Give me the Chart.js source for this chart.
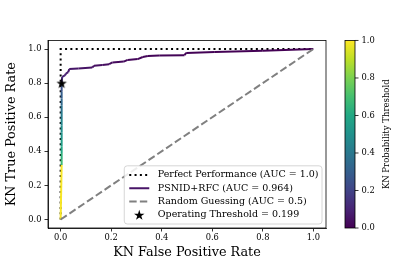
<!DOCTYPE html>
<html>
<head>
<meta charset="utf-8">
<script src="https://cdn.jsdelivr.net/npm/chart.js@4/dist/chart.umd.min.js"></script>
<style>
  html, body { margin: 0; padding: 0; background: #fff; }
  #wrap { width: 407px; height: 271px; }
</style>
</head>
<body>
<div id="wrap"><canvas id="c" width="407" height="271"></canvas></div>
<script>
// ---- data ----
const fpr = [0, 0.004, 0.004, 0.004, 0.004, 0.004, 0.004, 0.004, 0.004, 0.004, 0.004, 0.004, 0.004, 0.004,
             0.006, 0.017, 0.021, 0.030, 0.034, 0.070, 0.125, 0.132, 0.165, 0.192, 0.205, 0.250, 0.265,
             0.305, 0.325, 0.345, 0.390, 0.490, 0.497, 0.610, 0.800, 1.000];
const tpr = [0, 0.32, 0.35, 0.39, 0.43, 0.47, 0.51, 0.55, 0.59, 0.63, 0.67, 0.71, 0.75, 0.80,
             0.836, 0.845, 0.856, 0.864, 0.882, 0.886, 0.891, 0.902, 0.906, 0.911, 0.921, 0.926, 0.936,
             0.941, 0.953, 0.959, 0.962, 0.964, 0.977, 0.983, 0.990, 1.000];
const thresholds = [1.0, 0.99, 0.68, 0.64, 0.60, 0.56, 0.52, 0.49, 0.46, 0.42, 0.38, 0.34, 0.30, 0.25,
             0.12, 0.10, 0.09, 0.08, 0.07, 0.06, 0.05, 0.045, 0.04, 0.035, 0.03, 0.027, 0.024,
             0.02, 0.017, 0.014, 0.012, 0.01, 0.008, 0.006, 0.004, 0.0];
const perfectX = [0, 0, 1];
const perfectY = [0, 1, 1];
const randomX = [0, 1];
const randomY = [0, 1];
const opX = [0.004];
const opY = [0.80];
const opThreshold = 0.199;
const aucModel = 0.964;
const xTicks = [0, 0.2, 0.4, 0.6, 0.8, 1.0];
const yTicks = [0, 0.2, 0.4, 0.6, 0.8, 1.0];
const cbTicks = [0, 0.2, 0.4, 0.6, 0.8, 1.0];
const legendLabels = [
  'Perfect Performance (AUC = 1.0)',
  'PSNID+RFC (AUC = ' + aucModel + ')',
  'Random Guessing (AUC = 0.5)',
  'Operating Threshold = ' + opThreshold
];
const xTitle = 'KN False Positive Rate';
const yTitle = 'KN True Positive Rate';
const cbTitle = 'KN Probability Threshold';

// ---- colormap ----
const VIRIDIS = ['#440154','#482475','#414487','#355f8d','#2a788e','#21918c','#22a884','#44bf70','#7ad151','#bddf26','#fde725'];
const VRGB = VIRIDIS.map(h => [parseInt(h.slice(1,3),16), parseInt(h.slice(3,5),16), parseInt(h.slice(5,7),16)]);
function viridis(t) {
  t = Math.max(0, Math.min(1, t));
  const p = t * (VRGB.length - 1);
  const i = Math.min(Math.floor(p), VRGB.length - 2);
  const f = p - i;
  const a = VRGB[i], b = VRGB[i + 1];
  return 'rgb(' + [0,1,2].map(k => Math.round(a[k] + (b[k] - a[k]) * f)).join(',') + ')';
}

// ---- star marker ----
function makeStar(R) {
  const s = Math.ceil(R * 2 + 2);
  const cv = document.createElement('canvas');
  cv.width = s; cv.height = s;
  const g = cv.getContext('2d');
  drawStar(g, s / 2, s / 2 + R * 0.1, R);
  return cv;
}
function drawStar(g, cx, cy, R) {
  const r = R * 0.382;
  g.beginPath();
  for (let i = 0; i < 10; i++) {
    const rad = i % 2 === 0 ? R : r;
    const ang = -Math.PI / 2 + i * Math.PI / 5;
    const x = cx + rad * Math.cos(ang), y = cy + rad * Math.sin(ang);
    if (i === 0) g.moveTo(x, y); else g.lineTo(x, y);
  }
  g.closePath();
  g.fillStyle = '#000';
  g.fill();
}
const starImg = makeStar(5.5);

const FONT = "'DejaVu Serif', 'Liberation Serif', serif";
Chart.defaults.font.family = FONT;
Chart.defaults.color = '#000';

const toPts = (xs, ys) => xs.map((x, i) => ({x: x, y: ys[i]}));
const setTicks = arr => s => { s.ticks = arr.map(v => ({value: v})); };

// ---- plugin: frame, colorbar, legend ----
const extras = {
  id: 'extras',
  afterDatasetsDraw(chart) {
    const {ctx, chartArea: a} = chart;
    ctx.save();
    // legend
    ctx.font = '9.5px ' + FONT;
    const rowH = 13.3, pad = 5, handle = 20, gap = 8.5;
    const tw = Math.max(...legendLabels.map(t => ctx.measureText(t).width));
    const w = pad + handle + gap + tw + 3.5;
    const h = rowH * legendLabels.length + 5;
    const bx = a.right - 4 - w, by = a.bottom - 4 - h;
    ctx.beginPath();
    ctx.roundRect(bx, by, w, h, 3);
    ctx.fillStyle = 'rgba(255,255,255,0.85)';
    ctx.fill();
    ctx.strokeStyle = '#cccccc';
    ctx.lineWidth = 0.8;
    ctx.stroke();
    legendLabels.forEach((t, i) => {
      const cy = by + 2.5 + rowH * (i + 0.5);
      const hx = bx + pad;
      ctx.save();
      ctx.beginPath();
      if (i === 0) { ctx.setLineDash([2, 3.3]); ctx.strokeStyle = '#000'; ctx.lineWidth = 2; }
      else if (i === 1) { ctx.strokeStyle = '#481467'; ctx.lineWidth = 2; }
      else if (i === 2) { ctx.setLineDash([7.4, 3.2]); ctx.strokeStyle = '#808080'; ctx.lineWidth = 2; }
      if (i < 3) { ctx.moveTo(hx, cy); ctx.lineTo(hx + handle, cy); ctx.stroke(); }
      else { drawStar(ctx, hx + handle / 2, cy + 0.5, 5.5); }
      ctx.restore();
      ctx.fillStyle = '#000';
      ctx.textBaseline = 'middle';
      ctx.textAlign = 'left';
      ctx.fillText(t, hx + handle + gap, cy);
    });
    ctx.restore();
  },
  afterDraw(chart) {
    const {ctx, chartArea: a} = chart;
    ctx.save();
    ctx.strokeStyle = '#000';
    ctx.lineWidth = 0.8;
    ctx.strokeRect(a.left, a.top, a.right - a.left, a.bottom - a.top);
    // colorbar
    const cb = chart.scales.cb;
    const x0 = a.right + 19, w = 10;
    const yT = cb.getPixelForValue(1), yB = cb.getPixelForValue(0);
    const g = ctx.createLinearGradient(0, yB, 0, yT);
    VIRIDIS.forEach((c, i) => g.addColorStop(i / (VIRIDIS.length - 1), c));
    ctx.fillStyle = g;
    ctx.fillRect(x0, yT, w, yB - yT);
    ctx.strokeRect(x0, yT, w, yB - yT);
    cb.ticks.forEach(t => {
      const y = cb.getPixelForValue(t.value);
      ctx.beginPath();
      ctx.moveTo(x0 + w, y);
      ctx.lineTo(x0 + w + 3.5, y);
      ctx.stroke();
    });
    ctx.translate(386.5, (yT + yB) / 2);
    ctx.rotate(-Math.PI / 2);
    ctx.font = '8.5px ' + FONT;
    ctx.fillStyle = '#000';
    ctx.textAlign = 'center';
    ctx.textBaseline = 'middle';
    ctx.fillText(cbTitle, 0, 0);
    ctx.restore();
  }
};

const tickFont = {size: 8.3};
const gridOpts = {display: true, drawOnChartArea: false, drawTicks: true, tickLength: 3.5, color: '#000', lineWidth: 0.8};
const borderOpts = {display: true, color: '#000', width: 0.8};

new Chart(document.getElementById('c'), {
  type: 'scatter',
  data: {
    datasets: [
      {
        label: legendLabels[3], data: toPts(opX, opY), showLine: false,
        pointStyle: starImg, pointRadius: 5, order: 0
      },
      {
        label: legendLabels[2], data: toPts(randomX, randomY), showLine: true,
        borderColor: '#808080', borderWidth: 2, borderDash: [7.4, 3.2], pointRadius: 0, order: 1
      },
      {
        label: legendLabels[1], data: toPts(fpr, tpr), showLine: true,
        borderColor: '#481467', borderWidth: 2, pointRadius: 0, order: 2,
        segment: { borderColor: c => viridis(thresholds[c.p1DataIndex]) }
      },
      {
        label: legendLabels[0], data: toPts(perfectX, perfectY), showLine: true,
        borderColor: '#000', borderWidth: 2, borderDash: [2, 3.3], pointRadius: 0, order: 3
      }
    ]
  },
  options: {
    responsive: false,
    animation: false,
    events: [],
    layout: {padding: {top: 13, left: 0, right: 0, bottom: 0}},
    plugins: {legend: {display: false}, tooltip: {enabled: false}},
    scales: {
      x: {
        type: 'linear', position: 'bottom', min: -0.05, max: 1.05,
        afterBuildTicks: setTicks(xTicks),
        afterFit: s => { s.height = 43; },
        grid: gridOpts, border: borderOpts,
        ticks: {font: tickFont, padding: 1.5, maxRotation: 0, autoSkip: false, callback: v => v.toFixed(1)},
        title: {display: true, text: xTitle, font: {size: 12.8}, padding: {top: 0, bottom: 10.5}}
      },
      y: {
        type: 'linear', position: 'left', min: -0.05, max: 1.05,
        afterBuildTicks: setTicks(yTicks),
        afterFit: s => { s.width = 48; },
        grid: gridOpts, border: borderOpts,
        ticks: {font: tickFont, padding: 3, autoSkip: false, callback: v => v.toFixed(1)},
        title: {display: true, text: yTitle, font: {size: 12.8}, padding: {top: 4.3, bottom: 0}}
      },
      cb: {
        type: 'linear', position: 'right', min: 0, max: 1,
        afterBuildTicks: setTicks(cbTicks),
        afterFit: s => { s.width = 81; },
        grid: {display: false, drawTicks: false}, border: {display: false},
        ticks: {font: tickFont, padding: 35.5, autoSkip: false, callback: v => v.toFixed(1)}
      }
    }
  },
  plugins: [extras]
});
</script>
</body>
</html>
